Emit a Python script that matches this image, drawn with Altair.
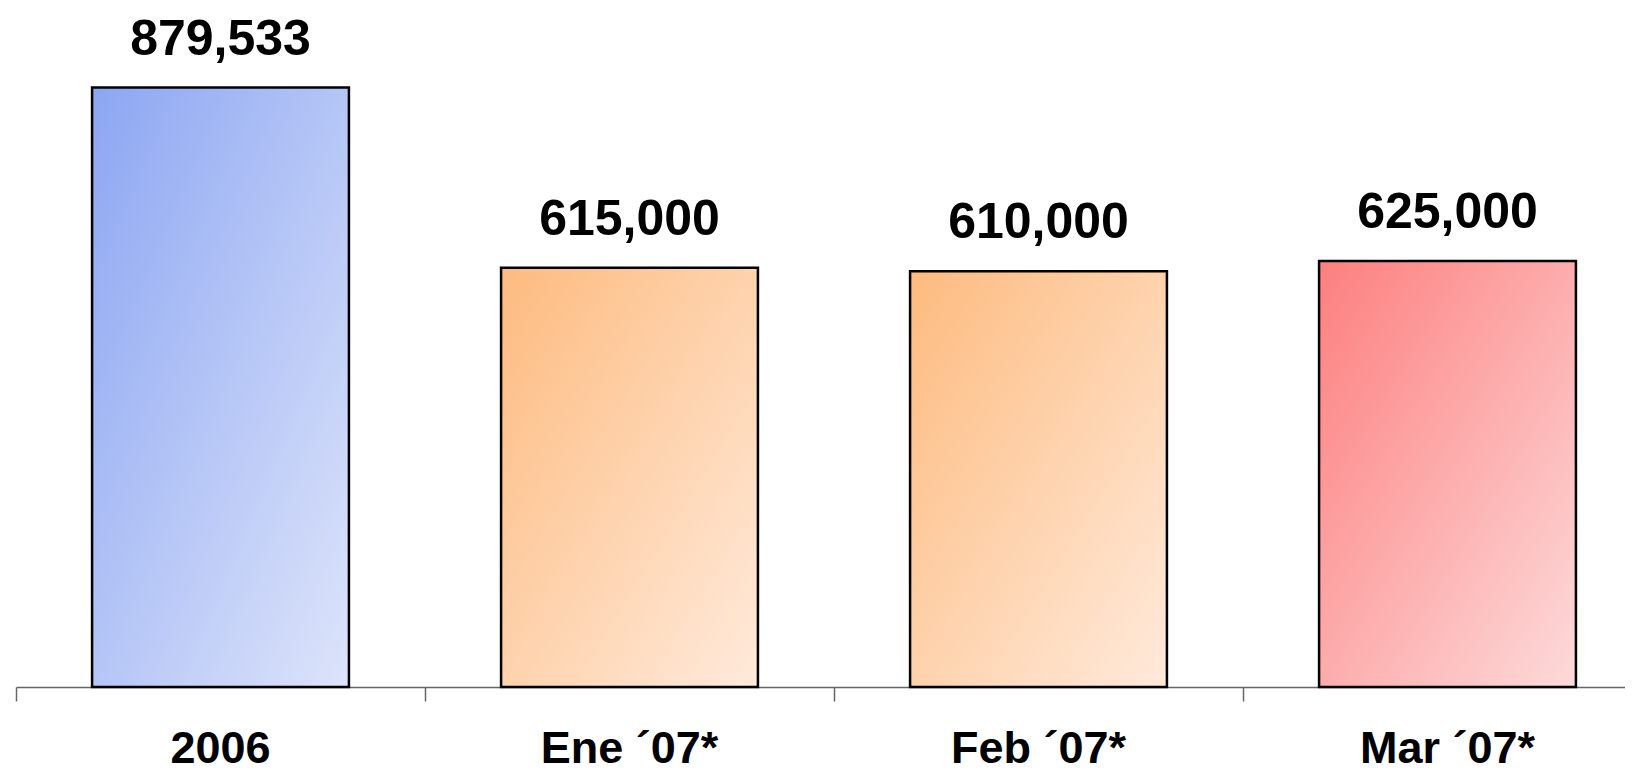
import altair as alt
import pandas as pd

categories = ["2006", "Ene ´07*", "Feb ´07*", "Mar ´07*"]
values = [879533, 615000, 610000, 625000]
groups = ["blue", "orange", "orange", "red"]

df = pd.DataFrame({"cat": categories, "val": values, "grp": groups})

gradients = {
    "blue": ("#8ca6f2", "#dde4fa"),
    "orange": ("#fdbb7f", "#ffeadb"),
    "red": ("#fd7f7f", "#fddada"),
}

FONT = "Liberation Sans"

x_enc = alt.X(
    "cat:N",
    sort=categories,
    title=None,
    scale=alt.Scale(range=[0, 1636], paddingInner=0, paddingOuter=0),
    axis=alt.Axis(
        labelAngle=0,
        labelFont=FONT,
        labelFontWeight="bold",
        labelFontSize=45,
        labelColor="#000000",
        labelPadding=25,
        labelLimit=600,
        tickSize=14,
        tickColor="#666666",
        domainColor="#666666",
        tickWidth=1.5,
        domainWidth=1.5,
        bandPosition=0,
        grid=False,
    ),
)
y_enc = alt.Y("val:Q", axis=None, scale=alt.Scale(domain=[0, 983000], nice=False))

base = alt.Chart(df)

layers = []
for g, (c0, c1) in gradients.items():
    grad = alt.LinearGradient(
        gradient="linear",
        stops=[alt.GradientStop(color=c0, offset=0), alt.GradientStop(color=c1, offset=1)],
        x1=0, y1=0, x2=1, y2=1,
    )
    layers.append(
        base.transform_filter(alt.datum.grp == g)
        .mark_bar(fill=grad, stroke="#000000", strokeWidth=2.5, width={"band": 0.628})
        .encode(x=x_enc, y=y_enc)
    )

labels = base.mark_text(
    font=FONT, fontWeight="bold", fontSize=50, color="#000000",
    baseline="alphabetic", dy=-33,
).encode(x=x_enc, y=y_enc, text=alt.Text("val:Q", format=","))

chart = alt.layer(*layers, labels).properties(
    width=1609, height=670,
    padding={"left": 8, "top": 9, "right": 0, "bottom": 79},
    autosize=alt.AutoSizeParams(type="none"),
    background="#ffffff",
).configure_view(stroke=None)

chart.save("out.html", embed_options={"renderer": "svg", "actions": False})
